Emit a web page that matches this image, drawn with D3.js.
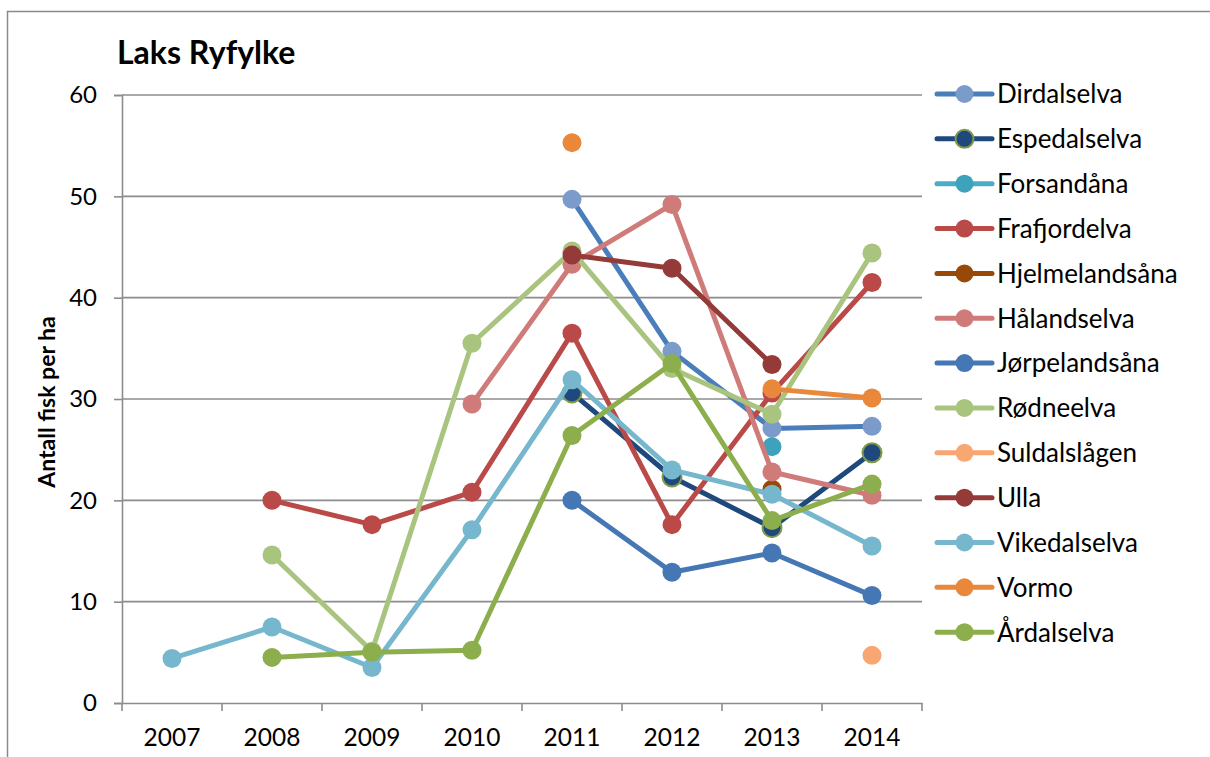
<!DOCTYPE html>
<html>
<head>
<meta charset="utf-8">
<script src="https://cdn.jsdelivr.net/npm/d3@7"></script>
<style>
  body { margin: 0; background: #fff; }
  svg { display: block; font-family: Lato, "Open Sans", sans-serif; }
</style>
</head>
<body>
<script>
// years on the x axis
const years = [2007, 2008, 2009, 2010, 2011, 2012, 2013, 2014];
const yTicks = [0, 10, 20, 30, 40, 50, 60];

// fish per hectare, one array per river (null = no survey)
const dirdalselva    = [null, null, null, null, 49.7, 34.7, 27.1, 27.3];
const espedalselva   = [null, null, null, null, 30.6, 22.3, 17.3, 24.7];
const forsandana     = [null, null, null, null, null, null, 25.3, null];
const frafjordelva   = [null, 20.0, 17.6, 20.8, 36.5, 17.6, 30.6, 41.5];
const hjelmelandsana = [null, null, null, null, null, null, 21.1, null];
const halandselva    = [null, null, null, 29.5, 43.3, 49.2, 22.8, 20.5];
const jorpelandsana  = [null, null, null, null, 20.0, 12.9, 14.8, 10.6];
const rodneelva      = [null, 14.6, 5.1, 35.5, 44.6, 33.0, 28.5, 44.4];
const suldalslagen   = [null, null, null, null, null, null, null, 4.7];
const ulla           = [null, null, null, null, 44.2, 42.9, 33.4, null];
const vikedalselva   = [4.4, 7.5, 3.5, 17.1, 31.9, 23.0, 20.6, 15.5];
const vormo          = [null, null, null, null, 55.3, null, 31.0, 30.1];
const ardalselva     = [null, 4.5, 5.0, 5.2, 26.4, 33.5, 18.0, 21.6];

const names = ["Dirdalselva", "Espedalselva", "Forsandåna", "Frafjordelva", "Hjelmelandsåna",
  "Hålandselva", "Jørpelandsåna", "Rødneelva", "Suldalslågen", "Ulla", "Vikedalselva", "Vormo", "Årdalselva"];
const values = [dirdalselva, espedalselva, forsandana, frafjordelva, hjelmelandsana,
  halandselva, jorpelandsana, rodneelva, suldalslagen, ulla, vikedalselva, vormo, ardalselva];

// line colour, marker fill, marker outline
const lineColors = ["#4a7ebb", "#1f497d", "#4bacc6", "#b94a48", "#984807", "#cf7b79",
  "#4677b5", "#a9c47f", "#f9a772", "#943a38", "#77b7cd", "#e9883a", "#8cae4c"];
const markerColors = ["#7b9bcb", "#1f497d", "#3fa2bb", "#b94a48", "#984807", "#cf7b79",
  "#4677b5", "#a9c47f", "#f9a772", "#943a38", "#77b7cd", "#e9883a", "#8cae4c"];
const markerStroke = [null, "#7f9a48", null, null, null, null, null, null, null, null, null, null, null];

const series = names.map((name, i) => ({
  name,
  line: lineColors[i],
  fill: markerColors[i],
  stroke: markerStroke[i],
  points: years.map((yr, j) => ({ year: yr, value: values[i][j] }))
}));

const width = 1210, height = 757;
const plot = { left: 122, right: 922, top: 95, bottom: 703 };

const svg = d3.select("body").append("svg")
  .attr("width", width)
  .attr("height", height);

// outer chart border (runs off the right and bottom of the picture)
svg.append("rect")
  .attr("x", 7.5).attr("y", 11.5)
  .attr("width", 1300).attr("height", 800)
  .attr("fill", "none")
  .attr("stroke", "#8a8a8a")
  .attr("stroke-width", 1.5);

const x = d3.scaleBand().domain(years).range([plot.left, plot.right]);
const y = d3.scaleLinear().domain([0, 60]).range([plot.bottom, plot.top]);

// gridlines
svg.append("g")
  .selectAll("line")
  .data(yTicks.filter(d => d > 0))
  .join("line")
  .attr("x1", plot.left).attr("x2", plot.right)
  .attr("y1", d => y(d)).attr("y2", d => y(d))
  .attr("stroke", "#8c8c8c")
  .attr("stroke-width", 1.6);

// y axis
const yAxis = svg.append("g")
  .attr("transform", `translate(${plot.left},0)`)
  .call(d3.axisLeft(y).tickValues(yTicks).tickSize(8).tickPadding(17));
yAxis.selectAll("path, line").attr("stroke", "#8c8c8c").attr("stroke-width", 1.6);
yAxis.selectAll("text").attr("font-size", 24).attr("fill", "#000").attr("font-family", "Lato");

// x axis: labels centred in bands, ticks on band edges
const xAxis = svg.append("g")
  .attr("transform", `translate(0,${plot.bottom})`)
  .call(d3.axisBottom(x).tickSize(0).tickPadding(26));
xAxis.select(".domain").attr("stroke", "#8c8c8c").attr("stroke-width", 1.6);
xAxis.selectAll("text").attr("font-size", 24.5).attr("fill", "#000").attr("font-family", "Lato");

const edges = years.map(d => x(d)).concat([x(years[years.length - 1]) + x.bandwidth()]);
svg.append("g")
  .selectAll("line")
  .data(edges)
  .join("line")
  .attr("x1", d => d).attr("x2", d => d)
  .attr("y1", plot.bottom).attr("y2", plot.bottom + 8)
  .attr("stroke", "#8c8c8c")
  .attr("stroke-width", 1.6);

// series
const cx = d => x(d.year) + x.bandwidth() / 2;
const line = d3.line()
  .defined(d => d.value != null)
  .x(cx)
  .y(d => y(d.value));

series.forEach(s => {
  const g = svg.append("g");
  g.append("path")
    .datum(s.points)
    .attr("d", line)
    .attr("fill", "none")
    .attr("stroke", s.line)
    .attr("stroke-width", 5)
    .attr("stroke-linejoin", "round");
  g.selectAll("circle")
    .data(s.points.filter(d => d.value != null))
    .join("circle")
    .attr("cx", cx)
    .attr("cy", d => y(d.value))
    .attr("r", 9.5)
    .attr("fill", s.fill)
    .attr("stroke", s.stroke || "none")
    .attr("stroke-width", 2);
});

// legend
const legend = svg.append("g").attr("transform", "translate(937,94)");
const item = legend.selectAll("g")
  .data(series)
  .join("g")
  .attr("transform", (d, i) => `translate(0,${i * 44.85})`);
item.append("line")
  .attr("x1", 0).attr("x2", 55)
  .attr("stroke", d => d.line)
  .attr("stroke-width", 5)
  .attr("stroke-linecap", "round");
item.append("circle")
  .attr("cx", 27.5)
  .attr("r", 9)
  .attr("fill", d => d.fill)
  .attr("stroke", d => d.stroke || "none")
  .attr("stroke-width", 2);
item.append("text")
  .attr("x", 60)
  .attr("dy", "0.36em")
  .attr("font-size", 26)
  .text(d => d.name);

// title
svg.append("text")
  .attr("x", 117).attr("y", 64)
  .attr("font-size", 32)
  .attr("font-weight", "bold")
  .text("Laks Ryfylke");

// y axis title
svg.append("text")
  .attr("transform", "translate(55,402) rotate(-90)")
  .attr("text-anchor", "middle")
  .attr("font-size", 23)
  .attr("font-weight", "bold")
  .text("Antall fisk per ha");
</script>
</body>
</html>
